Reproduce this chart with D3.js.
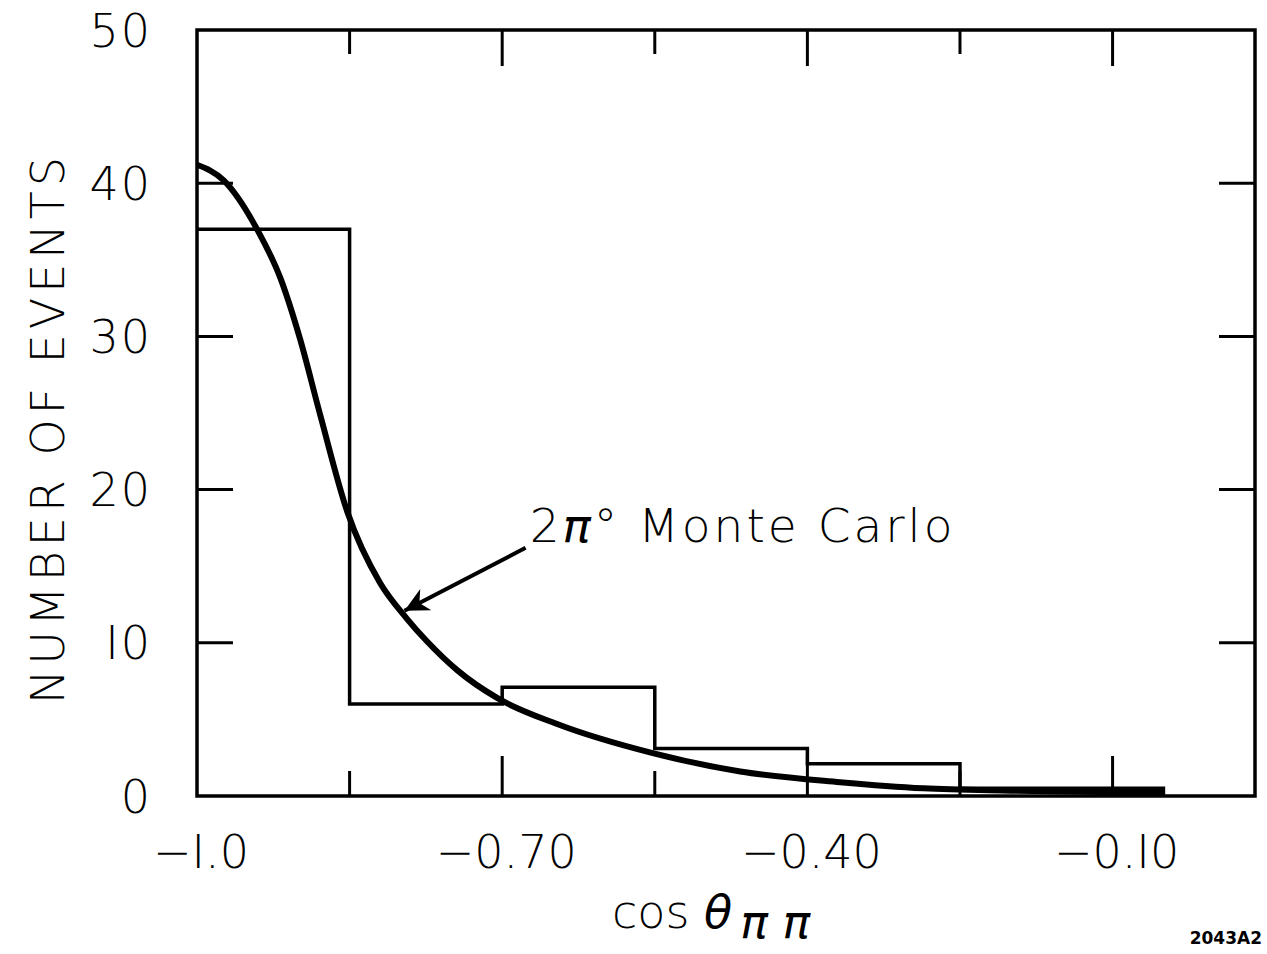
<!DOCTYPE html>
<html>
<head>
<meta charset="utf-8">
<script src="https://cdn.jsdelivr.net/npm/d3@7"></script>
<style>
  body { margin: 0; background: #fff; }
  text { font-family: "DejaVu Sans", "Liberation Sans", sans-serif; fill: #000; }
</style>
</head>
<body>
<div id="chart"></div>
<script>
// histogram bins (cos theta edges) and counts
var binEdges = [-1.0, -0.85, -0.70, -0.55, -0.40, -0.25, -0.10, -0.05];
var binCounts = [37, 6, 7.1, 3.1, 2.1, 0.5, 0.5];

// 2pi0 Monte Carlo curve
var mcX = [-1.0, -0.974, -0.941, -0.918, -0.899, -0.879, -0.852, -0.820, -0.794, -0.774, -0.744, -0.705, -0.646, -0.552, -0.466, -0.368, -0.286, -0.20, -0.10, -0.05];
var mcY = [41.2, 40.2, 37.0, 33.8, 29.9, 24.9, 18.5, 13.9, 11.6, 10.1, 8.2, 6.4, 4.7, 2.8, 1.6, 0.9, 0.5, 0.35, 0.25, 0.2];

var xTickVals = [-1.0, -0.85, -0.70, -0.55, -0.40, -0.25, -0.10];
var xTickLabels = ["\u2212I.0", "", "\u22120.70", "", "\u22120.40", "", "\u22120.I0"];
var yTickVals = [0, 10, 20, 30, 40, 50];
var yTickLabels = ["0", "I0", "20", "30", "40", "50"];

var W = 1267, H = 954;
var m = {left: 197, right: 12, top: 30, bottom: 158};
var iw = W - m.left - m.right, ih = H - m.top - m.bottom;

var svg = d3.select("#chart").append("svg")
    .attr("width", W).attr("height", H);

var x = d3.scaleLinear().domain([-1.0, 0.04]).range([0, iw]);
var y = d3.scaleLinear().domain([0, 50]).range([ih, 0]);

var g = svg.append("g").attr("transform", "translate(" + m.left + "," + m.top + ")");

// frame
g.append("rect")
    .attr("x", 0).attr("y", 0).attr("width", iw).attr("height", ih)
    .attr("fill", "none").attr("stroke", "#000").attr("stroke-width", 3.5);

// ticks: labelled ones longer
var major = function(i) { return i % 2 === 0; };
var xt = xTickVals.slice(1);
g.append("g").selectAll("line.bt")
    .data(xt).enter().append("line")
    .attr("x1", d => x(d)).attr("x2", d => x(d))
    .attr("y1", ih).attr("y2", (d, i) => ih - (major(i + 1) ? 40 : 25))
    .attr("stroke", "#000").attr("stroke-width", 3);
g.append("g").selectAll("line.tt")
    .data(xt).enter().append("line")
    .attr("x1", d => x(d)).attr("x2", d => x(d))
    .attr("y1", 0).attr("y2", (d, i) => (major(i + 1) ? 36 : 24))
    .attr("stroke", "#000").attr("stroke-width", 3);

var yt = yTickVals.slice(1, -1);
g.append("g").selectAll("line.lt")
    .data(yt).enter().append("line")
    .attr("x1", 0).attr("x2", 36)
    .attr("y1", d => y(d)).attr("y2", d => y(d))
    .attr("stroke", "#000").attr("stroke-width", 3);
g.append("g").selectAll("line.rt")
    .data(yt).enter().append("line")
    .attr("x1", iw).attr("x2", iw - 36)
    .attr("y1", d => y(d)).attr("y2", d => y(d))
    .attr("stroke", "#000").attr("stroke-width", 3);

// tick labels
g.append("g").selectAll("text")
    .data(yTickVals).enter().append("text")
    .attr("x", -45).attr("y", d => y(d))
    .attr("dy", "0.36em")
    .attr("text-anchor", "end")
    .attr("font-size", 46)
    .attr("font-weight", 300)
    .attr("letter-spacing", 2)
    .text((d, i) => yTickLabels[i]);

g.append("g").selectAll("text")
    .data(xTickVals).enter().append("text")
    .attr("x", d => x(d) + 4).attr("y", ih + 72)
    .attr("text-anchor", "middle")
    .attr("font-size", 46)
    .attr("font-weight", 300)
    .text((d, i) => xTickLabels[i]);

// histogram as a step outline
var steps = [];
binCounts.forEach(function(c, i) {
    steps.push([binEdges[i], c]);
    steps.push([binEdges[i + 1], c]);
});
steps.push([binEdges[binEdges.length - 1], 0]);
g.append("path")
    .attr("d", d3.line().x(d => x(d[0])).y(d => y(d[1]))(steps))
    .attr("fill", "none").attr("stroke", "#000").attr("stroke-width", 3.5);

// Monte Carlo curve
var mc = mcX.map((v, i) => [v, mcY[i]]);
g.append("path")
    .attr("d", d3.line().curve(d3.curveMonotoneX)
        .x(d => x(d[0])).y(d => y(d[1]))(mc))
    .attr("fill", "none").attr("stroke", "#000").attr("stroke-width", 6);

// annotation with arrow
svg.append("defs").append("marker")
    .attr("id", "head").attr("viewBox", "0 0 10 10")
    .attr("refX", 10).attr("refY", 5)
    .attr("markerWidth", 8).attr("markerHeight", 6)
    .attr("markerUnits", "strokeWidth")
    .attr("orient", "auto")
    .append("path").attr("d", "M0,0 L10,5 L0,10 L3,5 Z").attr("fill", "#000");

var ax = -0.80, ay = 11.9;
g.append("line")
    .attr("x1", x(-0.677)).attr("y1", y(16.2))
    .attr("x2", x(ax) + 4).attr("y2", y(ay) - 3)
    .attr("stroke", "#000").attr("stroke-width", 4)
    .attr("marker-end", "url(#head)");

var ann = g.append("text")
    .attr("x", x(-0.673)).attr("y", y(16.6))
    .attr("font-size", 47).attr("font-weight", 300)
    .attr("letter-spacing", 3);
ann.append("tspan").text("2");
ann.append("tspan").attr("font-style", "italic").text("\u03c0");
ann.append("tspan").text("\u00b0 Monte Carlo");

// axis titles
var xt2 = svg.append("text")
    .attr("x", 612).attr("y", 928)
    .attr("font-size", 46).attr("font-weight", 300);
xt2.append("tspan").text("cos ");
xt2.append("tspan").attr("font-style", "italic").text("\u03b8");
xt2.append("tspan").attr("font-style", "italic").attr("dy", 10).attr("dx", 8).text("\u03c0 \u03c0");

svg.append("text")
    .attr("transform", "translate(64,428) rotate(-90)")
    .attr("text-anchor", "middle")
    .attr("font-size", 46).attr("font-weight", 300)
    .attr("letter-spacing", 5)
    .text("NUMBER OF EVENTS");

svg.append("text")
    .attr("x", 1262).attr("y", 944)
    .attr("text-anchor", "end")
    .attr("font-size", 17).attr("font-weight", "bold")
    .text("2043A2");
</script>
</body>
</html>
